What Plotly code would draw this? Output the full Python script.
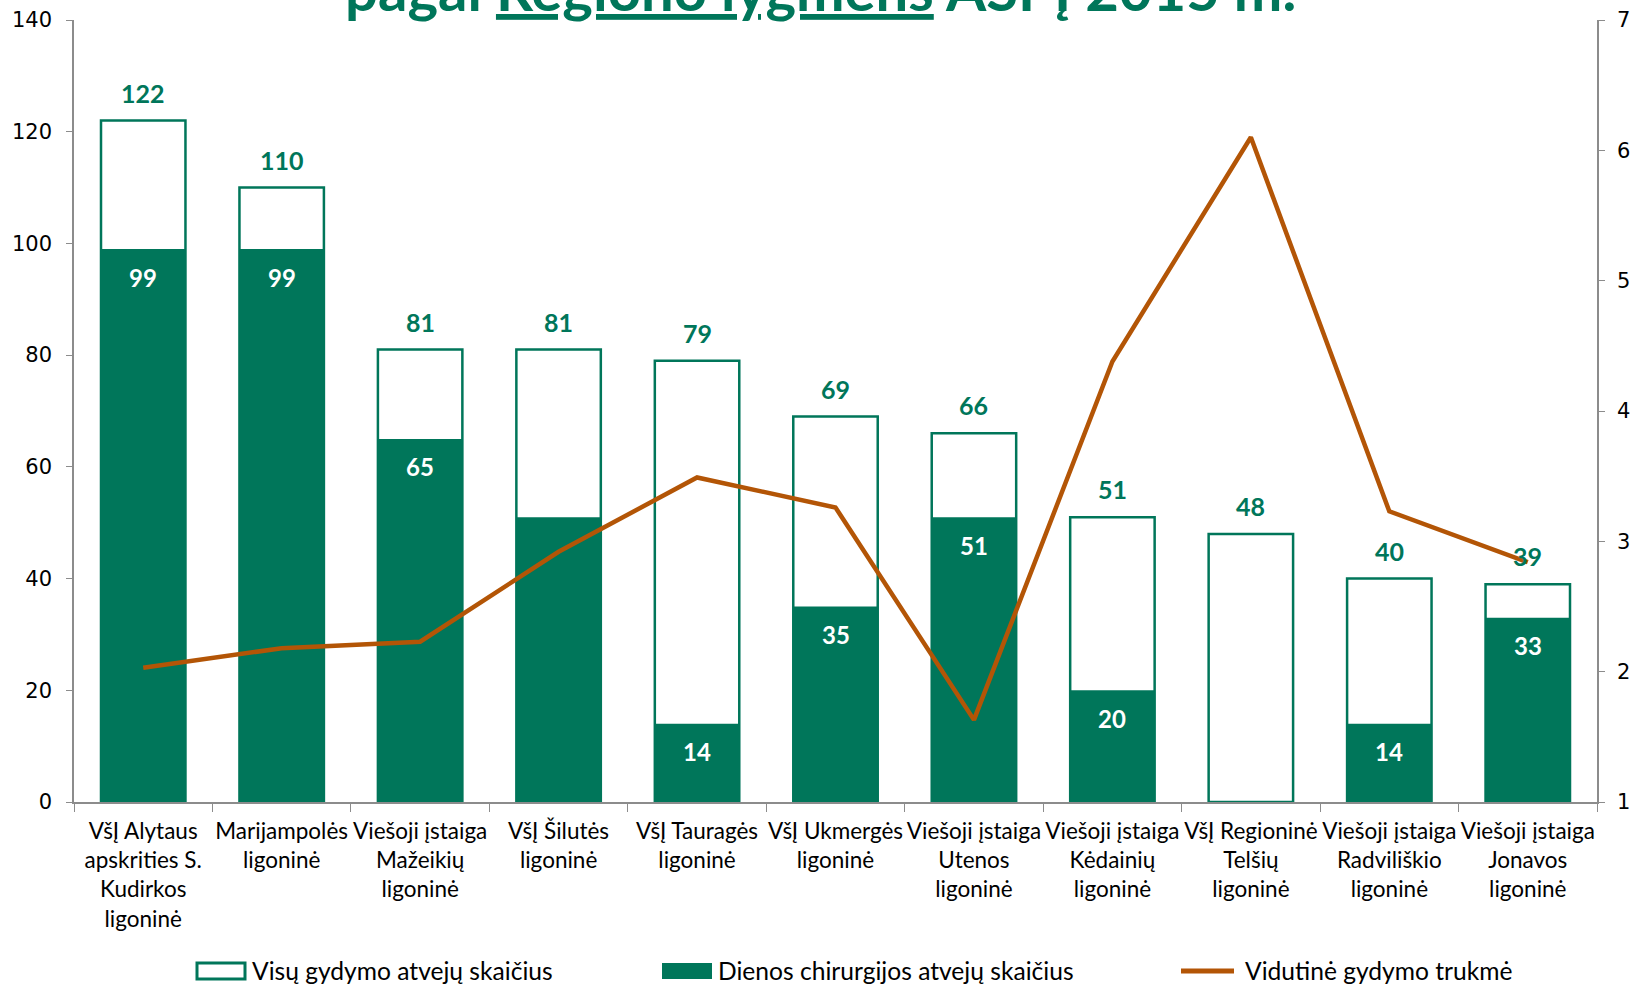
import plotly.graph_objects as go

categories = [
    "VšĮ Alytaus<br>apskrities S.<br>Kudirkos<br>ligoninė",
    "Marijampolės<br>ligoninė",
    "Viešoji įstaiga<br>Mažeikių<br>ligoninė",
    "VšĮ Šilutės<br>ligoninė",
    "VšĮ Tauragės<br>ligoninė",
    "VšĮ Ukmergės<br>ligoninė",
    "Viešoji įstaiga<br>Utenos<br>ligoninė",
    "Viešoji įstaiga<br>Kėdainių<br>ligoninė",
    "VšĮ Regioninė<br>Telšių<br>ligoninė",
    "Viešoji įstaiga<br>Radviliškio<br>ligoninė",
    "Viešoji įstaiga<br>Jonavos<br>ligoninė",
]
total_cases = [122, 110, 81, 81, 79, 69, 66, 51, 48, 40, 39]
day_surgery = [99, 99, 65, 51, 14, 35, 51, 20, 0, 14, 33]
day_labels = ["99", "99", "65", "", "14", "35", "51", "20", "", "14", "33"]
avg_duration = [2.03, 2.18, 2.23, 2.92, 3.49, 3.26, 1.63, 4.38, 6.10, 3.23, 2.84]

series_names = ["Visų gydymo atvejų skaičius", "Dienos chirurgijos atvejų skaičius", "Vidutinė gydymo trukmė"]

GREEN = "#00765A"
ORANGE = "#B35506"
AXIS = "#8C8C8C"
LABEL_FONT = "Lato, 'Open Sans', sans-serif"
TICK_FONT = "'DejaVu Sans', Verdana, sans-serif"

fig = go.Figure()
fig.add_trace(go.Bar(
    x=categories, y=total_cases, name=series_names[0],
    marker=dict(color="white", line=dict(color=GREEN, width=2.5)),
    showlegend=False,
))
fig.add_trace(go.Bar(
    x=categories, y=day_surgery, name=series_names[1],
    marker=dict(color=GREEN, line=dict(color=GREEN, width=0)),
    showlegend=False,
))
fig.add_trace(go.Scatter(
    x=categories, y=avg_duration, name=series_names[2], yaxis="y2",
    mode="lines", line=dict(color=ORANGE, width=4.5),
    showlegend=False,
))

annotations = []
for c, v in zip(categories, total_cases):
    annotations.append(dict(x=c, y=v, xref="x", yref="y", text=f"<b>{v}</b>",
                            showarrow=False, yshift=28,
                            font=dict(family=LABEL_FONT, size=25, color=GREEN)))
for c, v, t in zip(categories, day_surgery, day_labels):
    if t:
        annotations.append(dict(x=c, y=v, xref="x", yref="y", text=f"<b>{t}</b>",
                                showarrow=False, yshift=-28,
                                font=dict(family=LABEL_FONT, size=24, color="white")))

# Title (partially cut off at the top, as in the reference)
annotations.append(dict(
    x=0.49, y=0.993, xref="paper", yref="paper", xanchor="center", yanchor="bottom",
    text="<b>pagal <u>Regiono lygmens</u> ASPĮ 2015 m.</b>", showarrow=False,
    font=dict(family=LABEL_FONT, size=58, color=GREEN),
))

# Custom legend
L, R, T, B = 74, 1597, 20, 802
W, H = R - L, B - T
def px(xp):
    return (xp - L) / W
def py(yp):
    return (B - yp) / H

shapes = []
leg_y = 971
shapes.append(dict(type="rect", xref="paper", yref="paper",
                   x0=px(197), x1=px(245), y0=py(979), y1=py(963),
                   fillcolor="white", line=dict(color=GREEN, width=3)))
shapes.append(dict(type="rect", xref="paper", yref="paper",
                   x0=px(662), x1=px(712), y0=py(979), y1=py(963),
                   fillcolor=GREEN, line=dict(color=GREEN, width=0)))
shapes.append(dict(type="line", xref="paper", yref="paper",
                   x0=px(1181), x1=px(1234), y0=py(leg_y), y1=py(leg_y),
                   line=dict(color=ORANGE, width=5)))
for xs, name in zip([250, 716, 1243], series_names):
    annotations.append(dict(x=px(xs), y=py(leg_y), xref="paper", yref="paper",
                            xanchor="left", yanchor="middle", text=name, showarrow=False,
                            font=dict(family=LABEL_FONT, size=24.6, color="black")))

fig.update_layout(
    barmode="overlay",
    bargap=0.39,
    width=1637, height=985,
    margin=dict(l=L, r=1637 - R, t=T, b=985 - B),
    plot_bgcolor="white", paper_bgcolor="white",
    annotations=annotations,
    shapes=shapes,
    showlegend=False,
    xaxis=dict(
        showline=True, linecolor=AXIS, linewidth=1.5, automargin=False,
        ticks="outside", ticklen=8, tickcolor=AXIS, tickson="boundaries",
        tickangle=0, showgrid=False, ticklabelstandoff=8,
        tickfont=dict(family=LABEL_FONT, size=22.5, color="black"),
    ),
    yaxis=dict(
        range=[0, 140], dtick=20, showline=True, linecolor=AXIS, linewidth=1.5,
        ticks="outside", ticklen=6, tickcolor=AXIS, showgrid=False, zeroline=False,
        ticklabelstandoff=10, automargin=False,
        tickfont=dict(family=TICK_FONT, size=21, color="black"),
    ),
    yaxis2=dict(
        range=[1, 7], dtick=1, overlaying="y", side="right",
        showline=True, linecolor=AXIS, linewidth=1.5, automargin=False,
        ticks="outside", ticklen=6, tickcolor=AXIS, showgrid=False, zeroline=False,
        ticklabelstandoff=8,
        tickfont=dict(family=TICK_FONT, size=21, color="black"),
    ),
)

fig.write_html(
    "out.html",
    config={"displayModeBar": False},
    post_script="document.body.style.margin='0';document.body.style.overflow='hidden';",
)
